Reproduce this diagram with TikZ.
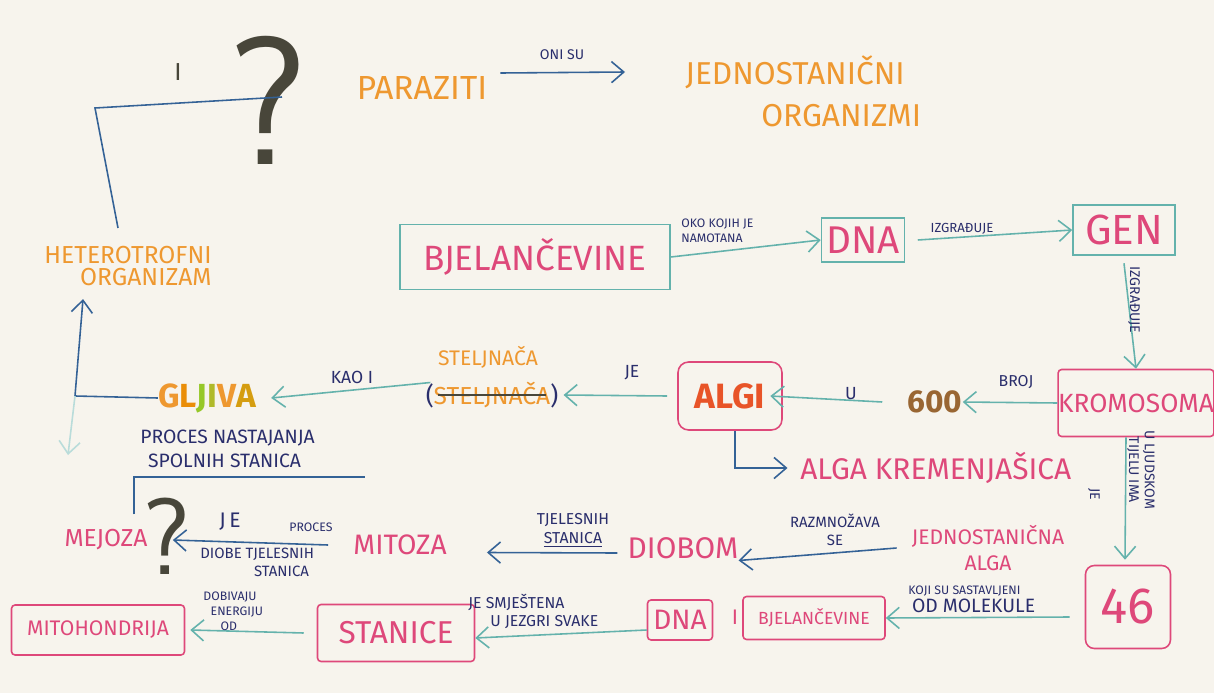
\documentclass[tikz,border=0pt]{standalone}
\usepackage{fontspec}
\setmainfont{Fira Sans}
\newfontfamily\thinfont{Latin Modern Sans}
\usepackage{xcolor}
\definecolor{paper}{RGB}{247,244,237}
\definecolor{pinkInk}{RGB}{222,72,122}
\definecolor{tealInk}{RGB}{100,178,172}
\definecolor{navyInk}{RGB}{42,46,108}
\definecolor{orangeInk}{RGB}{238,152,48}
\definecolor{blueInk}{RGB}{52,98,150}
\definecolor{darkInk}{RGB}{72,70,58}
\definecolor{redOrange}{RGB}{232,84,40}
\definecolor{limeInk}{RGB}{150,200,40}
\usepackage{tikz}
\usetikzlibrary{arrows.meta}
\newcommand{\penfs}[2]{\fontsize{#1}{#2}\selectfont}
\tikzset{
  pinkword/.style={text=pinkInk, inner sep=0pt},
  orangeword/.style={text=orangeInk, inner sep=0pt},
  pinkbox/.style={draw=pinkInk, line width=0.9pt, rounded corners=2pt, text=pinkInk, inner sep=0pt},
  tealbox/.style={draw=tealInk, line width=0.9pt, text=pinkInk, inner sep=0pt},
  note/.style={text=navyInk, inner sep=0pt, align=left},
  link/.style={->, draw=tealInk, line width=0.9pt},
  bluelink/.style={->, draw=blueInk, line width=0.9pt},
  penline/.style={draw=blueInk, line width=0.9pt}
}

\begin{document}
\begin{tikzpicture}[x=0.02cm, y=-0.02cm, >={Straight Barb[length=7pt,width=12pt]}]
  \fill[paper] (0,0) rectangle (1214,693);
  \useasboundingbox (0,0) rectangle (1214,693);

  % top row
  \node[text=darkInk, inner sep=0pt, font=\penfs{14}{14}] (conj) at (178,72) {I};
  \node[text=darkInk, inner sep=0pt, font=\thinfont\penfs{104}{104}] (qtop) at (268,100) {?};
  \node[orangeword, font=\penfs{19}{19}] (paraziti) at (422,88) {PARAZITI};
  \node[orangeword, anchor=west, align=left, font=\penfs{18}{24}] (jednost) at (685,91)
    {JEDNOSTANIČNI\\\hspace*{2.4em}ORGANIZMI};
  \draw[bluelink] ([xshift=0.26cm, yshift=0.3cm]paraziti.east) -- ([xshift=-1.2cm, yshift=0.38cm]jednost.west);
  \node[note, font=\penfs{8}{8}] (onisu) at (562,55) {ONI SU};

  \node[orangeword, align=right, font=\penfs{14}{13}] (hetero) at (128,266) {HETEROTROFNI\\ORGANIZAM};
  \coordinate (bendtop) at (95,108);
  \draw[penline] ([xshift=-0.2cm, yshift=0.35cm]hetero.north) -- (bendtop) -- ([xshift=0.28cm, yshift=0.06cm]qtop.center);

  % upper chain
  \node[tealbox, minimum width=5.4cm, minimum height=1.3cm, font=\penfs{20}{20}] (bjelT) at (535,257) {BJELANČEVINE};
  \node[tealbox, minimum width=1.66cm, minimum height=0.88cm, font=\penfs{22}{22}] (dnaT) at (863,240) {DNA};
  \node[tealbox, minimum width=2.04cm, minimum height=1.0cm, font=\penfs{24}{24}] (gen) at (1124,230) {GEN};
  \node[pinkbox, minimum width=2.84cm, minimum height=1.34cm, font=\penfs{15}{15}] (krom) at (1136,403) {KROMOSOMA};
  \node[pinkbox, rounded corners=6pt, minimum width=2.08cm, minimum height=1.36cm, text=redOrange,
    font=\penfs{20}{20}\bfseries] (algi) at (730,396) {ALGI};
  \node[text=brown!80!black, inner sep=0pt, font=\penfs{18}{18}\bfseries] (six) at (935,402) {600};
  \node[orangeword, font=\penfs{12}{12}] (steljA) at (488,357) {STELJNAČA};
  \node[orangeword, font=\penfs{14}{14}] (stelj) at (492,395)
    {\textcolor{navyInk}{(}STELJNAČA\textcolor{navyInk}{)}};
  \draw[darkInk, line width=0.8pt] ([xshift=0.25cm]stelj.west) -- ([xshift=-0.25cm]stelj.east);
  \node[inner sep=0pt, font=\penfs{19}{19}\bfseries] (gljiva) at (207,398)
    {\textcolor{orangeInk}{G}\textcolor{orange!80!limeInk}{L}\textcolor{limeInk}{J}\textcolor{limeInk!70!orangeInk}{I}\textcolor{orangeInk}{V}\textcolor{orange!60!limeInk}{A}};
  \node[pinkword, anchor=west, font=\penfs{17}{17}] (kremen) at (800,468) {ALGA KREMENJAŠICA};

  \draw[link] (bjelT.east) -- (dnaT.west);
  \node[note, anchor=north west, font=\penfs{7}{8.5}] (okokojih) at (681,219) {OKO KOJIH JE\\NAMOTANA};
  \draw[link] ([xshift=0.25cm]dnaT.east) -- (gen.west);
  \node[note, font=\penfs{7.5}{7.5}] (izgr1) at (962,229) {IZGRAĐUJE};
  \draw[link] ([yshift=-0.15cm]gen.south) -- (krom.north);
  \node[note, rotate=-90, font=\penfs{8}{8}] (izgr2) at (1134,300) {IZGRAĐUJE};
  \draw[link] (krom.west) -- (six.east);
  \node[note, font=\penfs{9}{9}] (broj) at (1016,382) {BROJ};
  \draw[link] ([xshift=-0.5cm]six.west) -- ([xshift=-0.25cm]algi.east);
  \node[note, font=\penfs{10}{10}] (uin) at (851,394) {U};
  \draw[link] ([xshift=-0.2cm]algi.west) -- ([xshift=0.1cm]stelj.east);
  \node[note, font=\penfs{10}{10}] (jeA) at (632,373) {JE};
  \draw[link] ([xshift=0.1cm, yshift=0.25cm]stelj.west) -- ([xshift=0.3cm]gljiva.east);
  \node[note, font=\penfs{10}{10}] (kaoi) at (352,377) {KAO I};

  \coordinate (corner) at (75,396);
  \coordinate (fadeend) at (68,455);
  \draw[penline, ->] (gljiva.west) -- (corner) -- ([xshift=-0.9cm, yshift=-0.25cm]hetero.south);
  \draw[->, tealInk!45, line width=0.9pt] (corner) -- (fadeend);
  \draw[penline, ->] ([xshift=0.1cm]algi.south) |- ([xshift=-0.25cm]kremen.west);

  % lower chain
  \node[pinkbox, rounded corners=5pt, minimum width=1.7cm, minimum height=1.66cm, font=\penfs{29}{29}] (n46) at (1128,607) {46};
  \node[pinkbox, minimum width=2.84cm, minimum height=0.86cm, font=\penfs{10}{10}] (bjelB) at (814,618) {BJELANČEVINE};
  \node[pinkword, font=\penfs{12}{12}] (and2) at (735,617) {I};
  \node[pinkbox, minimum width=1.3cm, minimum height=0.8cm, font=\penfs{16}{16}] (dnaB) at (680,620) {DNA};
  \node[pinkbox, minimum width=3.14cm, minimum height=1.14cm, font=\penfs{18}{18}] (stanice) at (396,633) {STANICE};
  \node[pinkbox, minimum width=3.46cm, minimum height=1.0cm, font=\penfs{12}{12}] (mito) at (98,630) {MITOHONDRIJA};

  \draw[link] ([xshift=-0.2cm]krom.south) -- ([xshift=-0.06cm, yshift=0.1cm]n46.north);
  \node[note, rotate=-90, align=center, font=\penfs{8}{9}] (uljud) at (1141,470) {U LJUDSKOM\\TIJELU IMA};
  \node[note, rotate=-90, font=\penfs{8}{8}] (jeB) at (1094,494) {JE};

  \draw[link] ([xshift=-0.3cm, yshift=-0.2cm]n46.west) -- (bjelB.east);
  \node[note, anchor=north west, font=\penfs{7}{10}] (kojisu) at (908,586)
    {KOJI SU SASTAVLJENI\\\hspace*{0.3em}{\penfs{11}{11}OD MOLEKULE}};
  \draw[link] ([yshift=-0.2cm]dnaB.west) -- ([yshift=-0.1cm]stanice.east);
  \node[note, anchor=north west, font=\penfs{9}{10}] (smjest) at (468,594)
    {JE SMJEŠTENA\\\hspace*{1.4em}U JEZGRI SVAKE};
  \draw[link] ([xshift=-0.26cm]stanice.west) -- ([xshift=0.1cm]mito.east);
  \node[note, anchor=north west, font=\penfs{7}{8.5}] (dobiv) at (203,592)
    {DOBIVAJU\\\hspace*{0.6em}ENERGIJU\\\hspace*{1.4em}OD};

  % division row
  \node[pinkword, align=center, font=\penfs{12}{15}] (jednA) at (988,548) {JEDNOSTANIČNA\\ALGA};
  \node[pinkword, font=\penfs{17}{17}] (diobom) at (683,548) {DIOBOM};
  \node[pinkword, font=\penfs{16}{16}] (mitoza) at (400,545) {MITOZA};
  \node[pinkword, font=\penfs{14}{14}] (mejoza) at (106,540) {MEJOZA};
  \node[text=darkInk, inner sep=0pt, font=\thinfont\penfs{62}{62}] (qlow) at (167,536) {?};

  \draw[bluelink] ([xshift=-0.3cm]jednA.west) -- ([yshift=-0.25cm]diobom.east);
  \node[note, align=center, font=\penfs{8.5}{10}] (razmn) at (835,530) {RAZMNOŽAVA\\SE};
  \draw[bluelink] ([xshift=-0.2cm, yshift=-0.1cm]diobom.west) -- ([xshift=0.8cm, yshift=-0.15cm]mitoza.east);
  \node[note, align=center, font=\penfs{9}{11}] (tjel) at (573,530) {TJELESNIH\\\underline{STANICA}};
  \draw[bluelink] ([xshift=-0.5cm]mitoza.west) -- ([xshift=0.5cm]mejoza.east);
  \node[note, font=\penfs{12}{12}] (jeC) at (230,522) {J\,E};
  \node[note, font=\penfs{7}{7}] (proc) at (311,527) {PROCES};
  \node[note, anchor=north west, font=\penfs{8.5}{10}] (diobe) at (200,548)
    {DIOBE TJELESNIH\\\hspace*{3.6em}STANICA};

  \coordinate (spolend) at (365,477);
  \draw[penline] ([xshift=0.56cm, yshift=0.3cm]mejoza.north) |- (spolend);
  \node[note, anchor=north west, font=\penfs{11}{13.5}] (spol) at (140,430)
    {PROCES NASTAJANJA\\\hspace*{0.4em}SPOLNIH STANICA};
\end{tikzpicture}
\end{document}
